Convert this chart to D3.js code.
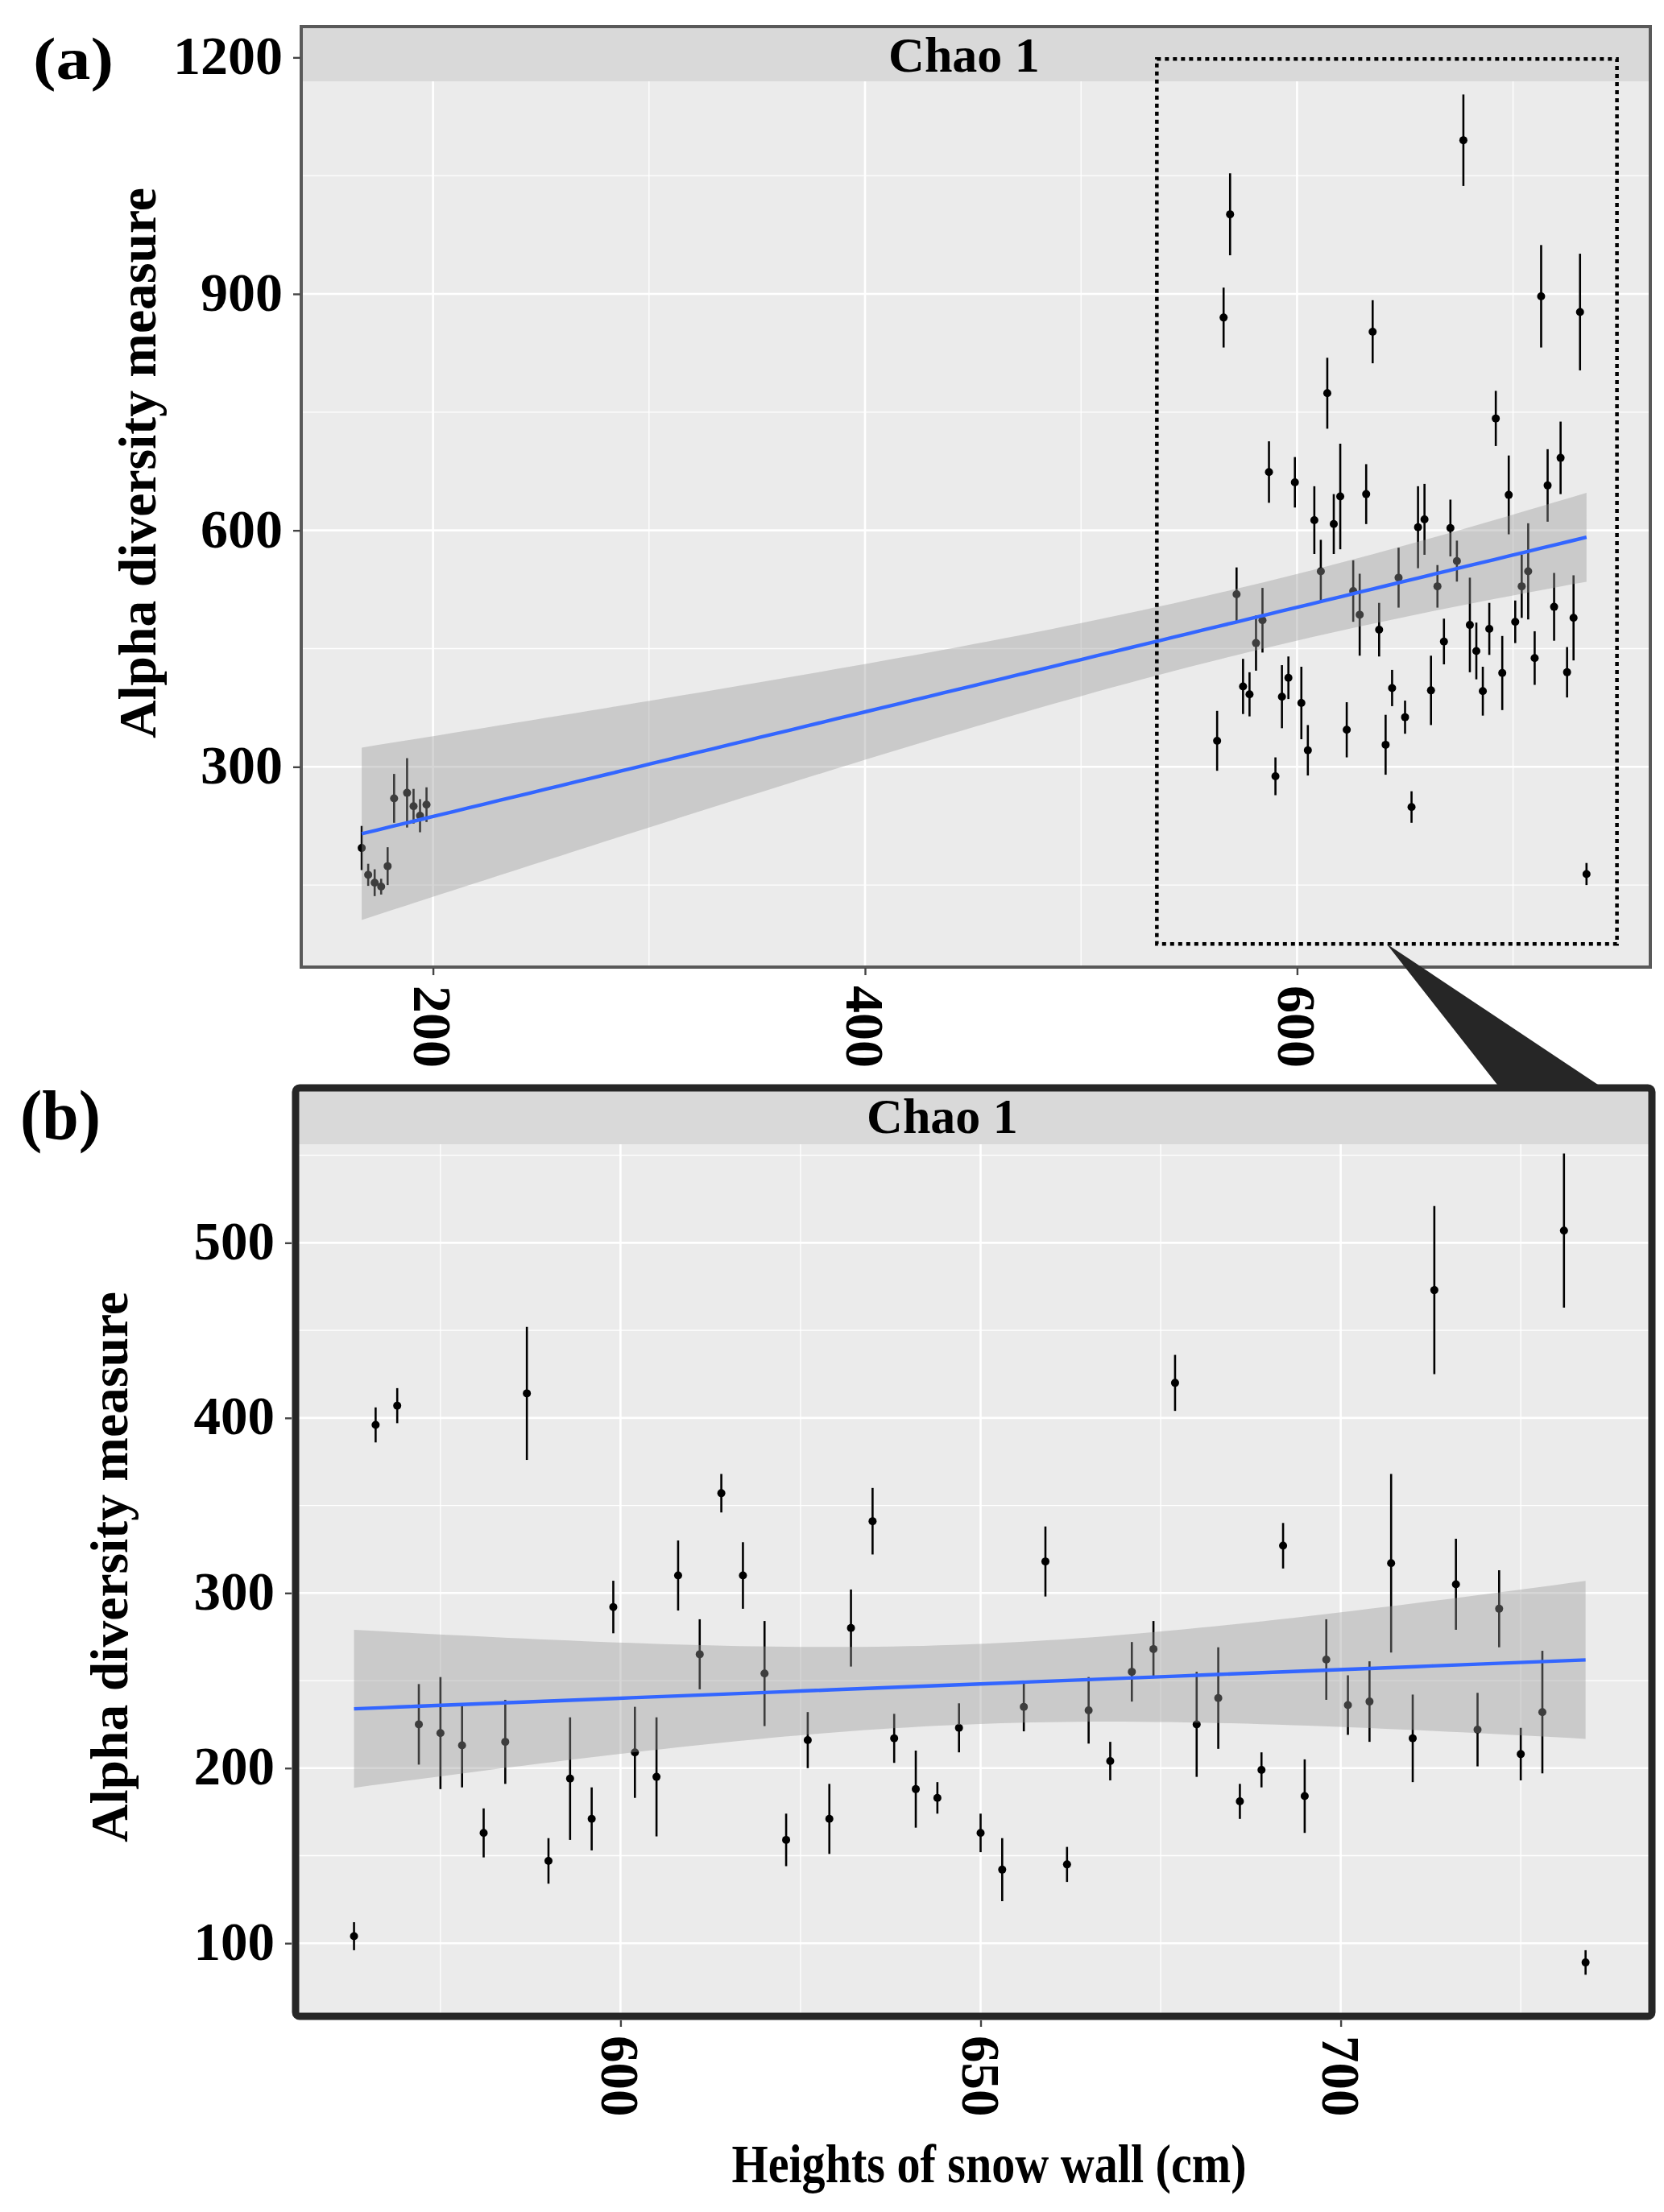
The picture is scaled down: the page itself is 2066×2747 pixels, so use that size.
<!DOCTYPE html>
<html>
<head>
<meta charset="utf-8">
<script src="https://cdn.jsdelivr.net/npm/d3@7"></script>
<style>
body{margin:0;background:#fff;}
text{font-family:"Liberation Serif","Times New Roman",serif;font-weight:bold;}
</style>
</head>
<body>
<script>
// snow wall heights (cm) and Chao 1 estimates
var heightsLow=[167,170,173,176,179,182,188,191,194,197];
var chaoLow=[197,163,153,148,174,260,267,250,238,252];
var seLow=[28,14,17,10,24,31,44,22,21,22];

var heightsHigh=[563,566,569,572,575,578,581,584,587,590,593,596,599,602,605,608,611,614,617,620,
                 623,626,629,632,635,638,641,644,647,650,653,656,659,662,665,668,671,674,677,680,
                 683,686,689,692,695,698,701,704,707,710,713,716,719,722,725,728,731,734];
var chaoHigh=[333,870,1001,519,402,392,457,486,674,288,389,413,661,381,321,613,548,774,608,643,
              347,523,493,646,852,474,328,400,540,363,249,604,614,397,529,459,603,561,1095,480,
              447,396,475,742,419,645,484,529,548,438,897,657,503,692,420,489,877,164];
var seHigh=[38,38,52,34,35,28,35,41,39,24,40,27,32,46,32,43,40,45,38,67,
            35,39,52,38,40,34,38,23,38,21,20,52,45,44,27,29,36,26,58,60,
            36,31,33,35,47,50,27,40,61,34,65,46,43,46,32,54,74,14];

var chaoZoom=[104,396,407,225,220,213,163,215,414,147,194,171,292,209,195,310,265,357,310,254,
              159,216,171,280,341,217,188,183,223,163,142,235,318,145,233,204,255,268,420,225,
              240,181,199,327,184,262,236,238,317,217,473,305,222,291,208,232,507,89];
var seZoom=[8,10,10,23,32,24,14,24,38,13,35,18,15,26,34,20,20,11,19,30,
            15,16,20,22,19,14,22,9,14,11,18,14,20,10,19,11,17,16,16,30,
            29,10,10,13,21,23,17,23,51,25,48,26,21,22,15,35,44,7];

var ticksAx=[200,400,600], minorAx=[300,500,700];
var ticksAy=[300,600,900,1200], minorAy=[150,450,750,1050];
var ticksBx=[600,650,700], minorBx=[575,625,675,725];
var ticksBy=[100,200,300,400,500], minorBy=[150,250,350,450,550];
var zoomBoxX=[535.1,748.1], zoomBoxY=[75.3,1198];

var svg=d3.select("body").append("svg")
          .attr("width",2066)
          .attr("height",2747);

var fitLine=function(xs,ys,tval,steps)
{
  var n=xs.length, mx=d3.mean(xs), my=d3.mean(ys);
  var sxx=d3.sum(xs,function(x){return (x-mx)*(x-mx);});
  var sxy=d3.sum(xs,function(x,i){return (x-mx)*(ys[i]-my);});
  var b=sxy/sxx, a=my-b*mx;
  var s2=d3.sum(xs,function(x,i){var r=ys[i]-a-b*x; return r*r;})/(n-2);
  var ext=d3.extent(xs);
  return d3.range(steps+1).map(function(k){
    var x=ext[0]+(ext[1]-ext[0])*k/steps;
    var yh=a+b*x;
    var se=Math.sqrt(s2*(1/n+(x-mx)*(x-mx)/sxx));
    return {x:x,y:yh,lo:yh-tval*se,hi:yh+tval*se};
  });
};

var drawPanel=function(p)
{
  var g=svg.append("g");
  g.append("rect").attr("x",p.left).attr("y",p.stripBottom)
   .attr("width",p.right-p.left).attr("height",p.bottom-p.stripBottom)
   .attr("fill","#ebebeb");

  g.selectAll(".minx").data(p.minorX).enter().append("line")
   .attr("x1",function(d){return p.x(d);}).attr("x2",function(d){return p.x(d);})
   .attr("y1",p.stripBottom).attr("y2",p.bottom)
   .attr("stroke","#fff").attr("stroke-width",1.3);
  g.selectAll(".miny").data(p.minorY).enter().append("line")
   .attr("y1",function(d){return p.y(d);}).attr("y2",function(d){return p.y(d);})
   .attr("x1",p.left).attr("x2",p.right)
   .attr("stroke","#fff").attr("stroke-width",1.3);
  g.selectAll(".majx").data(p.ticksX).enter().append("line")
   .attr("x1",function(d){return p.x(d);}).attr("x2",function(d){return p.x(d);})
   .attr("y1",p.stripBottom).attr("y2",p.bottom)
   .attr("stroke","#fff").attr("stroke-width",2.6);
  g.selectAll(".majy").data(p.ticksY.filter(function(d){return p.y(d)>p.stripBottom;})).enter().append("line")
   .attr("y1",function(d){return p.y(d);}).attr("y2",function(d){return p.y(d);})
   .attr("x1",p.left).attr("x2",p.right)
   .attr("stroke","#fff").attr("stroke-width",2.6);

  // error bars and points
  var pts=g.selectAll(".pt").data(p.points).enter().append("g");
  pts.append("line")
     .attr("x1",function(d){return p.x(d.x);}).attr("x2",function(d){return p.x(d.x);})
     .attr("y1",function(d){return p.y(d.v-d.se);}).attr("y2",function(d){return p.y(d.v+d.se);})
     .attr("stroke","#000").attr("stroke-width",2.6);
  pts.append("circle")
     .attr("cx",function(d){return p.x(d.x);}).attr("cy",function(d){return p.y(d.v);})
     .attr("r",5).attr("fill","#000");

  var fit=fitLine(p.points.map(function(d){return d.x;}),p.points.map(function(d){return d.v;}),p.tval,80);
  g.append("path").datum(fit)
   .attr("d",d3.area().x(function(d){return p.x(d.x);})
                      .y0(function(d){return p.y(d.lo);})
                      .y1(function(d){return p.y(d.hi);}))
   .attr("fill","#999").attr("fill-opacity",0.4);
  g.append("path").datum(fit)
   .attr("d",d3.line().x(function(d){return p.x(d.x);}).y(function(d){return p.y(d.y);}))
   .attr("fill","none").attr("stroke","#3366ff").attr("stroke-width",4.4);

  g.append("rect").attr("x",p.left).attr("y",p.top)
   .attr("width",p.right-p.left).attr("height",p.stripBottom-p.top)
   .attr("fill","#d9d9d9");
  g.append("text").attr("x",p.stripTextX).attr("y",p.stripTextY)
   .attr("text-anchor","middle").attr("font-size",62).text("Chao 1");

  var yAxis=d3.axisLeft(p.y).tickValues(p.ticksY).tickFormat(d3.format("d")).tickSize(p.tick).tickPadding(13);
  var ya=svg.append("g").attr("transform","translate("+p.axisLeft+",0)").call(yAxis);
  var xAxis=d3.axisBottom(p.x).tickValues(p.ticksX).tickFormat(d3.format("d")).tickSize(p.tick);
  var xa=svg.append("g").attr("transform","translate(0,"+p.axisBottom+")").call(xAxis);
  [ya,xa].forEach(function(a){
    a.select(".domain").remove();
    a.selectAll("line").attr("stroke","#444").attr("stroke-width",2.4);
    a.selectAll("text").attr("fill","#000").attr("font-size",p.tickFont)
     .attr("font-family","Liberation Serif").attr("font-weight","bold");
  });
  ya.selectAll("text").attr("dy","0.3em");
  xa.selectAll("text").attr("transform","rotate(90)")
    .attr("text-anchor","start").attr("y",0).attr("x",p.xLabelOff).attr("dy","0.35em");

  g.append("rect").attr("x",p.borderBox[0]).attr("y",p.borderBox[1])
   .attr("width",p.borderBox[2]-p.borderBox[0]).attr("height",p.borderBox[3]-p.borderBox[1])
   .attr("rx",p.borderRx).attr("fill","none")
   .attr("stroke",p.borderColor).attr("stroke-width",p.borderWidth);

  svg.append("text")
     .attr("transform","translate("+p.titleX+","+p.titleY+") rotate(-90)")
     .attr("text-anchor","middle").attr("font-size",66)
     .attr("textLength",684).attr("lengthAdjust","spacingAndGlyphs")
     .text("Alpha diversity measure");
  return g;
};

// panel (a)
var xA=d3.scaleLinear().domain([200,600]).range([537.6,1610.4]);
var yA=d3.scaleLinear().domain([300,900]).range([952.3,365]);
var pointsA=heightsLow.map(function(h,i){return {x:h,v:chaoLow[i],se:seLow[i]};})
  .concat(heightsHigh.map(function(h,i){return {x:h,v:chaoHigh[i],se:seHigh[i]};}));

drawPanel({x:xA,y:yA,left:374,right:2049,top:33,stripBottom:101,bottom:1200,
  ticksX:ticksAx,minorX:minorAx,ticksY:ticksAy,minorY:minorAy,points:pointsA,tval:1.9966,
  stripTextX:1197,stripTextY:89,axisLeft:373,axisBottom:1202,tick:9,tickFont:68,xLabelOff:22,
  borderBox:[374,33,2049,1201],borderRx:0,borderColor:"#595959",borderWidth:4,
  titleX:193,titleY:575});

// dotted zoom window
svg.append("rect")
   .attr("x",xA(zoomBoxX[0])).attr("y",yA(zoomBoxY[1]))
   .attr("width",xA(zoomBoxX[1])-xA(zoomBoxX[0]))
   .attr("height",yA(zoomBoxY[0])-yA(zoomBoxY[1]))
   .attr("fill","none").attr("stroke","#000").attr("stroke-width",4.5)
   .attr("stroke-dasharray","5,5");

// panel (b)
var xB=d3.scaleLinear().domain([600,700]).range([770.4,1664.6]);
var yB=d3.scaleLinear().domain([100,500]).range([2413.2,1543.4]);
var pointsB=heightsHigh.map(function(h,i){return {x:h,v:chaoZoom[i],se:seZoom[i]};});

drawPanel({x:xB,y:yB,left:371,right:2047,top:1355,stripBottom:1421,bottom:2500,
  ticksX:ticksBx,minorX:minorBx,ticksY:ticksBy,minorY:minorBy,points:pointsB,tval:2.0032,
  stripTextX:1170,stripTextY:1407,axisLeft:362,axisBottom:2509,tick:8,tickFont:67,xLabelOff:19,
  borderBox:[367,1351,2051,2504],borderRx:5,borderColor:"#262626",borderWidth:9,
  titleX:158,titleY:1946});

// callout wedge from the window to panel (b)
svg.append("path")
   .attr("d","M"+xA(641.5)+","+yA(zoomBoxY[0])+"L1859,1347L1984,1347Z")
   .attr("fill","#262626");

svg.append("text").attr("x",1228).attr("y",2710)
   .attr("text-anchor","middle").attr("font-size",68)
   .attr("textLength",639).attr("lengthAdjust","spacingAndGlyphs")
   .text("Heights of snow wall (cm)");

svg.append("text").attr("x",41).attr("y",98).attr("font-size",74)
   .attr("textLength",100).attr("lengthAdjust","spacingAndGlyphs").text("(a)");
svg.append("text").attr("x",25).attr("y",1414).attr("font-size",86)
   .attr("textLength",100).attr("lengthAdjust","spacingAndGlyphs").text("(b)");
</script>
</body>
</html>
